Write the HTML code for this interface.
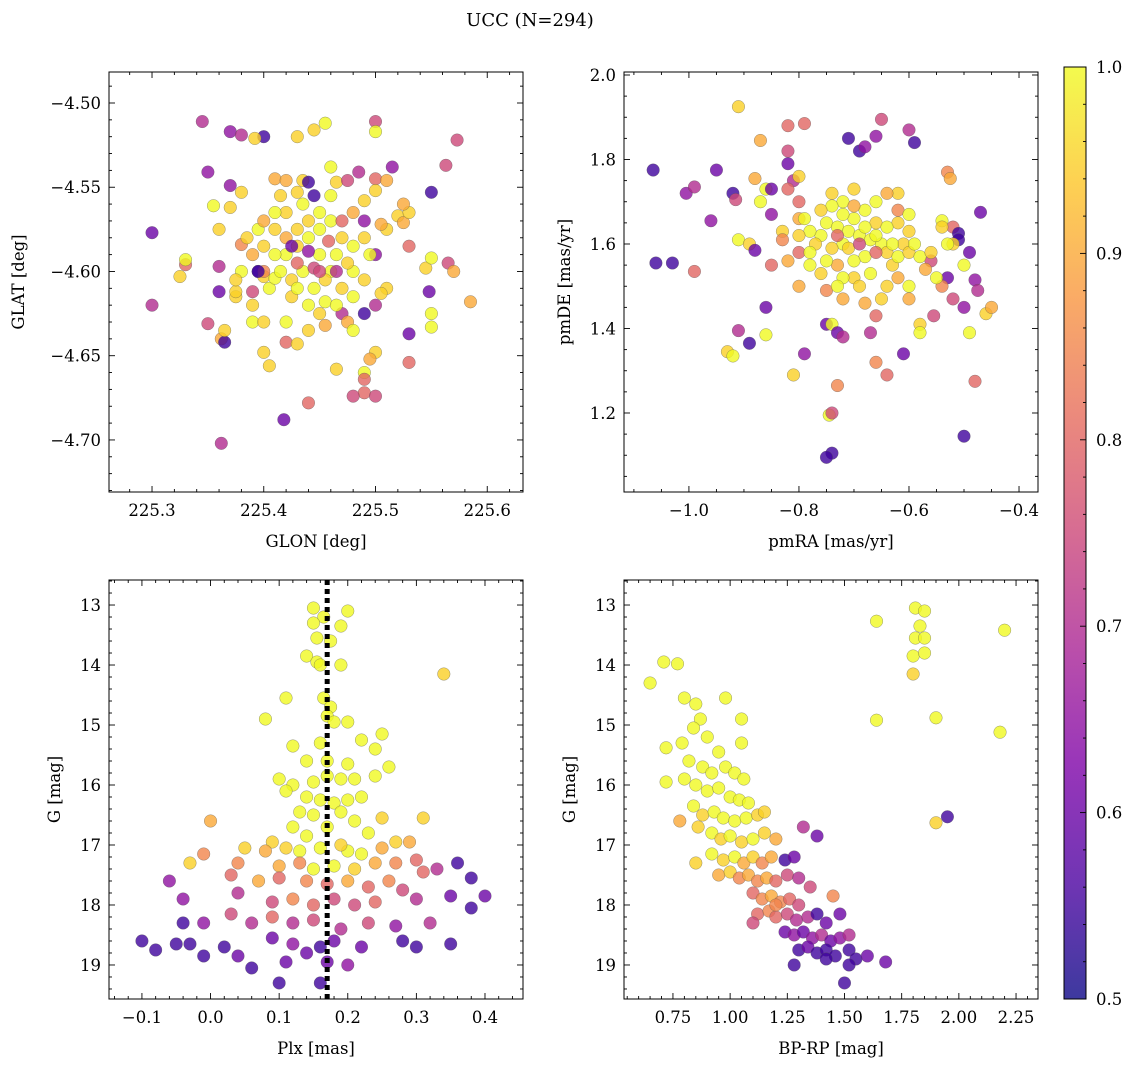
<!DOCTYPE html>
<html><head><meta charset="utf-8">
<style>
body{margin:0;background:#fff;}
svg{display:block;font-family:"DejaVu Serif","Liberation Serif",serif;}
</style></head>
<body>
<svg id="fig" width="1136" height="1067" viewBox="0 0 1136 1067">
<defs>
<linearGradient id="plasma" x1="0" y1="1" x2="0" y2="0">
<stop offset="0" stop-color="#0d0887"/><stop offset="0.125" stop-color="#4c02a1"/>
<stop offset="0.25" stop-color="#7e03a8"/><stop offset="0.375" stop-color="#a92395"/>
<stop offset="0.5" stop-color="#cc4778"/><stop offset="0.625" stop-color="#e66c5c"/>
<stop offset="0.75" stop-color="#f89540"/><stop offset="0.875" stop-color="#fdc527"/>
<stop offset="1" stop-color="#f0f921"/>
</linearGradient>
</defs>
<text x="530" y="26" font-size="18" text-anchor="middle">UCC (N=294)</text>
</svg>
<script>
// ---------- data ----------
const p1_glon=[225.345,225.37,225.38,225.40,225.392,225.43,225.455,225.445,225.50,225.50,225.573,225.35,225.37,225.38,225.41,225.42,225.435,225.44,225.46,225.465,225.475,225.485,225.50,225.51,225.515,225.55,225.563,225.30,225.355,225.37,225.36,225.38,225.33,225.33,225.325,225.30,225.36,225.36,225.35,225.362,225.365,225.365,225.375,225.39,225.375,225.39,225.40,225.405,225.42,225.43,225.44,225.418,225.362,225.465,225.49,225.49,225.49,225.50,225.48,225.50,225.495,225.53,225.53,225.55,225.55,225.585,225.565,225.57,225.545,225.55,225.548,225.53,225.52,225.525,225.53,225.525,225.49,225.5,225.51,225.505,225.50,225.51,225.505,225.5,225.49,225.47,225.475,225.48,225.455,225.44,225.42,225.40,225.405,225.395,225.4,225.41,225.39,
225.42,225.43,225.44,225.45,225.46,225.435,225.425,225.445,225.455,225.465,225.47,225.45,225.44,225.43,225.42,225.41,225.415,225.425,225.44,225.455,225.47,225.48,225.475,225.48,225.46,225.45,225.435,225.42,225.41,225.40,225.4,225.43,225.445,225.458,225.465,225.44,225.425,225.45,225.47,225.49,225.48,225.46,225.445,225.43,225.415,225.41,225.395,225.385,225.39,225.395,225.43,225.45,225.465,225.48,225.49,225.495,225.49,225.4,225.38,225.375];
const p1_glat=[-4.511,-4.517,-4.519,-4.52,-4.521,-4.52,-4.512,-4.516,-4.511,-4.517,-4.522,-4.541,-4.549,-4.553,-4.545,-4.546,-4.546,-4.547,-4.538,-4.547,-4.546,-4.541,-4.545,-4.546,-4.538,-4.553,-4.537,-4.577,-4.561,-4.562,-4.575,-4.584,-4.596,-4.593,-4.603,-4.62,-4.597,-4.612,-4.631,-4.64,-4.642,-4.635,-4.615,-4.62,-4.612,-4.63,-4.648,-4.656,-4.642,-4.643,-4.678,-4.688,-4.702,-4.658,-4.66,-4.664,-4.672,-4.674,-4.674,-4.648,-4.652,-4.637,-4.654,-4.633,-4.625,-4.618,-4.595,-4.6,-4.598,-4.592,-4.612,-4.585,-4.567,-4.571,-4.565,-4.56,-4.558,-4.552,-4.575,-4.572,-4.59,-4.61,-4.613,-4.62,-4.625,-4.625,-4.63,-4.635,-4.632,-4.635,-4.63,-4.63,-4.61,-4.6,-4.603,-4.604,-4.612,
-4.59,-4.585,-4.58,-4.59,-4.6,-4.6,-4.605,-4.61,-4.605,-4.59,-4.58,-4.575,-4.57,-4.575,-4.58,-4.59,-4.6,-4.615,-4.62,-4.618,-4.61,-4.6,-4.595,-4.585,-4.57,-4.565,-4.56,-4.565,-4.575,-4.585,-4.6,-4.595,-4.598,-4.582,-4.6,-4.588,-4.585,-4.6,-4.57,-4.57,-4.565,-4.555,-4.555,-4.553,-4.555,-4.565,-4.575,-4.58,-4.59,-4.6,-4.61,-4.625,-4.62,-4.615,-4.605,-4.59,-4.58,-4.57,-4.6,-4.605];
const p1_prob=[0.7,0.65,0.7,0.55,0.95,0.95,1,0.95,0.75,1,0.75,0.65,0.65,0.95,0.9,0.9,0.95,0.55,1,0.95,0.75,0.7,0.8,0.9,0.65,0.55,0.75,0.6,1,0.95,0.95,0.85,0.8,1,0.95,0.7,0.7,0.6,0.75,0.9,0.55,0.95,0.95,0.95,0.95,1,0.95,0.95,0.8,0.95,0.8,0.6,0.7,0.95,1,0.8,0.8,0.75,0.75,0.95,0.9,0.6,0.8,1,1,0.9,0.75,0.9,0.95,1,0.6,0.8,0.95,0.9,0.95,0.9,0.95,0.95,0.95,0.9,0.65,0.95,0.95,0.7,0.55,0.7,0.9,1,0.9,0.95,1,0.95,1,0.55,0.95,1,0.75,
1,0.95,1,1,1,1,0.95,1,0.95,1,0.95,1,0.95,0.95,0.9,1,1,0.95,1,1,0.95,1,0.95,1,1,1,1,0.95,0.95,0.95,0.85,0.8,0.75,0.8,0.7,0.65,0.6,0.75,0.8,0.65,0.9,1,0.55,0.95,0.95,1,1,0.95,0.9,0.55,1,0.95,1,1,0.95,1,0.95,0.9,1,0.95];

const p2_pmra=[-1.065,-1.06,-1.03,-0.99,-1.005,-0.99,-0.96,-0.95,-0.92,-0.91,-0.915,-0.91,-0.89,-0.88,-0.87,-0.88,-0.87,-0.86,-0.85,-0.85,-0.85,-0.86,-0.86,-0.89,-0.91,-0.93,-0.92,-0.82,-0.79,-0.82,-0.82,-0.81,-0.82,-0.8,-0.8,-0.8,-0.83,-0.83,-0.8,-0.82,-0.78,-0.79,-0.81,-0.75,-0.74,-0.73,-0.72,-0.73,-0.745,-0.74,-0.74,-0.75,-0.71,-0.69,-0.68,-0.66,-0.65,-0.6,-0.59,-0.54,-0.53,-0.525,-0.52,-0.51,-0.51,-0.52,-0.5,-0.49,-0.47,-0.48,-0.475,-0.46,-0.45,-0.5,-0.49,-0.53,-0.54,-0.52,-0.555,-0.58,-0.58,-0.6,-0.61,-0.64,-0.66,-0.66,-0.67,-0.7,-0.56,-0.5,-0.48,-0.61,-0.6,-0.62,-0.62,
-0.75,-0.73,-0.71,-0.69,-0.67,-0.72,-0.74,-0.76,-0.78,-0.77,-0.7,-0.68,-0.66,-0.65,-0.64,-0.68,-0.7,-0.73,-0.75,-0.76,-0.72,-0.69,-0.67,-0.63,-0.62,-0.66,-0.72,-0.74,-0.76,-0.79,-0.8,-0.78,-0.72,-0.7,-0.68,-0.66,-0.64,-0.63,-0.71,-0.73,-0.69,-0.66,-0.6,-0.59,-0.58,-0.56,-0.55,-0.57,-0.62,-0.64,-0.6,-0.65,-0.68,-0.72,-0.75,-0.73,-0.8,-0.7,-0.74,-0.64,-0.62,-0.6,-0.54,-0.53];
const p2_pmde=[1.775,1.555,1.555,1.535,1.72,1.735,1.655,1.775,1.72,1.925,1.705,1.61,1.6,1.585,1.845,1.755,1.7,1.73,1.73,1.67,1.55,1.45,1.385,1.365,1.395,1.345,1.335,1.88,1.885,1.82,1.79,1.75,1.73,1.76,1.7,1.66,1.63,1.61,1.58,1.56,1.55,1.34,1.29,1.41,1.41,1.39,1.38,1.265,1.195,1.2,1.105,1.095,1.85,1.82,1.83,1.855,1.895,1.87,1.84,1.655,1.77,1.755,1.64,1.625,1.61,1.6,1.55,1.58,1.675,1.515,1.49,1.435,1.45,1.45,1.39,1.52,1.5,1.47,1.43,1.41,1.39,1.47,1.34,1.29,1.32,1.43,1.39,1.52,1.56,1.145,1.275,1.6,1.63,1.65,1.72,
1.65,1.64,1.63,1.62,1.61,1.6,1.59,1.62,1.63,1.6,1.66,1.68,1.65,1.6,1.58,1.57,1.56,1.55,1.56,1.53,1.52,1.5,1.53,1.55,1.57,1.7,1.7,1.69,1.68,1.66,1.62,1.58,1.67,1.69,1.64,1.62,1.64,1.6,1.59,1.62,1.6,1.58,1.58,1.6,1.57,1.58,1.52,1.54,1.52,1.5,1.5,1.47,1.46,1.47,1.49,1.5,1.5,1.73,1.72,1.72,1.68,1.67,1.64,1.6];
const p2_prob=[0.55,0.55,0.55,0.8,0.65,0.7,0.65,0.6,0.55,0.95,0.75,1,0.95,0.6,0.9,0.9,1,1,0.6,0.65,0.8,0.6,1,0.55,0.7,0.95,1,0.8,0.8,0.75,0.6,0.7,0.8,0.95,0.8,0.9,0.95,0.85,0.8,0.9,1,0.65,0.95,0.6,1,0.6,0.7,0.85,1,0.75,0.55,0.55,0.55,0.55,0.65,0.65,0.75,0.7,0.55,1,0.85,0.9,0.8,0.55,0.55,0.95,1,0.6,0.6,0.65,0.7,0.95,0.9,0.65,1,0.6,0.85,0.75,0.75,0.95,1,0.9,0.6,0.8,0.85,0.8,0.7,0.95,0.75,0.55,0.8,0.95,0.95,0.95,0.95,
1,1,1,1,1,1,0.95,1,1,0.95,1,1,0.95,1,0.95,1,1,0.9,1,0.95,1,0.95,1,0.95,1,1,1,1,0.95,1,0.95,1,1,0.9,1,1,1,1,0.95,0.8,0.75,0.8,0.95,1,1,0.95,1,0.9,0.9,0.95,1,0.95,0.9,0.9,0.85,1,0.9,0.95,0.95,0.9,0.85,1,0.95,1];

const p3_plx=[0.15,0.2,0.165,0.15,0.19,0.155,0.175,0.14,0.155,0.16,0.19,0.34,0.165,0.175,0.11,0.17,0.18,0.2,0.08,0.25,0.16,0.12,0.22,0.24,0.14,0.17,0.2,0.26,0.1,0.12,0.15,0.17,0.19,0.21,0.24,0.14,0.11,0.16,0.18,0.2,0.22,0.13,0.15,0.19,0.21,0.25,0.31,0.0,0.12,0.17,0.14,0.23,0.09,0.27,0.29,0.05,0.08,0.11,0.13,0.16,0.2,0.22,0.25,0.19,-0.01,-0.03,0.04,0.1,0.13,0.15,0.18,0.21,0.24,0.27,0.3,0.31,-0.06,0.03,0.07,0.1,0.14,0.17,0.2,0.23,0.26,0.28,0.33,0.36,0.38,0.4,-0.04,0.04,0.09,0.12,0.15,0.18,0.21,0.24,0.3,0.35,0.38,-0.04,-0.01,0.03,0.06,0.09,0.12,0.15,0.19,0.23,0.27,0.32,-0.1,-0.08,-0.05,-0.03,-0.01,0.02,0.04,0.06,0.09,0.11,0.12,0.14,0.16,0.17,0.18,0.2,0.22,0.28,0.3,0.35,0.1,0.16];
const p3_g=[13.05,13.1,13.2,13.3,13.35,13.55,13.6,13.85,13.95,14.0,14.0,14.15,14.55,14.7,14.55,14.85,14.95,14.95,14.9,15.15,15.3,15.35,15.25,15.4,15.6,15.6,15.65,15.7,15.9,16,15.95,15.85,15.9,15.9,15.85,16.2,16.1,16.25,16.3,16.25,16.2,16.45,16.5,16.45,16.6,16.55,16.55,16.6,16.7,16.7,16.85,16.8,16.95,16.95,16.95,17.05,17.1,17.05,17.1,17.05,17.1,17.15,17.05,17.0,17.15,17.3,17.3,17.35,17.3,17.4,17.35,17.4,17.3,17.3,17.25,17.45,17.6,17.5,17.6,17.55,17.6,17.65,17.6,17.7,17.6,17.75,17.4,17.3,17.55,17.85,17.9,17.8,17.95,17.9,18.0,17.9,18.0,17.95,17.9,17.85,18.05,18.3,18.3,18.15,18.3,18.2,18.3,18.25,18.4,18.3,18.35,18.3,18.6,18.75,18.65,18.65,18.85,18.7,18.85,19.05,18.55,18.95,18.65,18.8,18.7,18.95,18.6,19.0,18.7,18.6,18.7,18.65,19.3,19.3];
const p3_prob=[1,1,1,1,1,1,1,1,1,1,1,0.95,1,1,1,1,1,1,1,1,1,1,1,1,1,1,1,1,1,1,1,1,1,1,1,1,1,1,1,1,1,1,1,1,1,0.95,0.95,0.9,1,1,1,1,0.95,0.95,0.9,0.95,0.9,0.95,1,1,1,1,0.9,0.95,0.85,0.95,0.85,0.9,0.85,1,1,0.95,0.9,0.85,0.8,0.8,0.65,0.8,0.9,0.8,0.85,0.8,0.9,0.8,0.85,0.75,0.7,0.55,0.55,0.6,0.65,0.7,0.75,0.85,0.8,0.75,0.75,0.8,0.7,0.6,0.55,0.55,0.65,0.75,0.7,0.8,0.7,0.75,0.7,0.75,0.65,0.7,0.55,0.55,0.55,0.55,0.55,0.55,0.6,0.55,0.6,0.6,0.65,0.6,0.55,0.6,0.6,0.65,0.6,0.55,0.55,0.55,0.55,0.55];

const p4_bprp=[1.81,1.85,1.83,1.81,1.85,1.8,1.85,1.8,2.2,1.64,1.64,1.9,2.18,1.9,1.95,0.65,0.71,0.77,0.72,0.72,0.8,0.85,0.87,0.84,0.98,1.05,1.05,0.9,0.95,0.79,0.82,0.88,0.92,0.98,1.02,1.06,0.8,0.85,0.9,0.95,1.0,1.04,1.08,0.84,0.88,0.93,0.97,1.02,1.07,1.12,1.15,0.78,0.86,0.92,0.96,1.0,1.05,1.1,1.15,1.2,1.32,1.38,0.85,0.92,0.97,1.02,1.06,1.1,1.14,1.18,1.24,1.28,0.95,1.0,1.04,1.08,1.12,1.16,1.2,1.25,1.3,1.35,1.1,1.14,1.18,1.22,1.26,1.3,1.45,1.12,1.17,1.2,1.25,1.29,1.34,1.38,1.42,1.48,1.24,1.28,1.32,1.36,1.4,1.44,1.48,1.52,1.3,1.34,1.38,1.42,1.46,1.52,1.55,1.6,1.68,1.28,1.42,1.52,1.5,1.2,1.1];
const p4_g=[13.05,13.1,13.35,13.55,13.55,13.85,13.8,14.15,13.42,13.27,14.92,14.88,15.12,16.63,16.53,14.3,13.95,13.98,15.38,15.95,14.55,14.65,14.9,15.05,14.55,14.9,15.3,15.2,15.45,15.3,15.6,15.7,15.8,15.7,15.8,15.9,15.9,16.0,16.1,16.05,16.2,16.25,16.3,16.35,16.5,16.45,16.55,16.6,16.55,16.5,16.45,16.6,16.7,16.8,16.9,16.85,16.95,16.9,16.8,16.9,16.7,16.85,17.3,17.15,17.25,17.2,17.3,17.2,17.3,17.2,17.25,17.2,17.5,17.45,17.55,17.5,17.6,17.55,17.6,17.5,17.55,17.7,17.8,17.9,17.85,17.95,17.9,18.0,17.85,18.15,18.1,18.2,18.15,18.25,18.2,18.15,18.3,18.15,18.45,18.5,18.45,18.55,18.5,18.6,18.55,18.5,18.75,18.7,18.8,18.75,18.85,18.75,18.9,18.85,18.95,19.0,18.9,19.0,19.3,18.0,18.3];
const p4_prob=[1,1,1,1,1,1,1,0.95,1,1,1,1,1,0.95,0.55,1,1,1,1,1,1,1,1,1,1,1,1,1,1,1,1,1,1,1,1,1,1,1,1,1,1,1,1,1,0.95,1,1,1,1,0.95,0.95,0.9,0.95,1,0.95,1,0.95,1,0.95,0.9,0.7,0.6,0.95,1,0.95,1,0.9,0.95,0.85,0.9,0.55,0.6,0.9,0.95,0.85,0.9,0.85,0.9,0.8,0.75,0.7,0.75,0.8,0.85,0.9,0.85,0.8,0.75,0.85,0.8,0.85,0.8,0.75,0.7,0.7,0.55,0.6,0.6,0.6,0.65,0.6,0.65,0.7,0.6,0.65,0.7,0.55,0.6,0.55,0.55,0.55,0.55,0.55,0.6,0.6,0.55,0.55,0.55,0.55,0.85,0.75];

const plxLine=0.17;
const cbTicks=[0.5,0.6,0.7,0.8,0.9,1.0];

// ---------- helpers ----------
const NS='http://www.w3.org/2000/svg';
const svg=document.getElementById('fig');
const FS=16.5;
function mk(tag,attrs,parent){const e=document.createElementNS(NS,tag);for(const k in attrs)e.setAttribute(k,attrs[k]);(parent||svg).appendChild(e);return e;}
const stops=[[0,[13,8,135]],[0.125,[76,2,161]],[0.25,[126,3,168]],[0.375,[169,35,149]],[0.5,[204,71,120]],[0.625,[230,108,92]],[0.75,[248,149,64]],[0.875,[253,197,39]],[1,[240,249,33]]];
function plasma(v){let t=Math.max(0,Math.min(1,(v-0.5)/0.5));for(let i=1;i<stops.length;i++){if(t<=stops[i][0]){const a=stops[i-1],b=stops[i];const f=(t-a[0])/(b[0]-a[0]);const c=a[1].map((x,j)=>Math.round(x+(b[1][j]-x)*f));return `rgb(${c[0]},${c[1]},${c[2]})`;}}return 'rgb(240,249,33)';}
function fmt(v,d){const s=Math.abs(v).toFixed(d);return (v<-1e-9?'\u2212':'')+s;}

function panel(cfg){
  const g=mk('g',{});
  
  
  const {x0,x1,y0,y1,xmin,xmax,ymin,ymax,yrev}=cfg;
  const sx=v=>x0+(v-xmin)/(xmax-xmin)*(x1-x0);
  const sy=v=>yrev? y0+(v-ymin)/(ymax-ymin)*(y1-y0) : y1-(v-ymin)/(ymax-ymin)*(y1-y0);
  const pts=mk('g',{},g);
  
  
  for(let i=0;i<cfg.xs.length;i++){
    const c=mk('circle',{cx:sx(cfg.xs[i]),cy:sy(cfg.ys[i]),r:6.3,fill:plasma(cfg.ps[i]),'fill-opacity':0.8,stroke:'#555','stroke-opacity':0.6,'stroke-width':0.5},pts);
    
    
  }
  if(cfg.vline!==undefined){
    const l=mk('line',{x1:sx(cfg.vline),x2:sx(cfg.vline),y1:y0,y2:y1,stroke:'#000','stroke-width':5,'stroke-dasharray':'5,4'},g);
    
    
  }
  const fr=mk('rect',{x:x0,y:y0,width:x1-x0,height:y1-y0,fill:'none',stroke:'#000','stroke-width':1},g);
  
  
  const tg=mk('g',{stroke:'#000','stroke-width':0.9},g);
  const eps=1e-9;
  for(let v=Math.ceil(xmin/cfg.xminor-eps)*cfg.xminor;v<=xmax+eps;v+=cfg.xminor){
    const X=sx(v);const maj=Math.abs(Math.round(v/cfg.xmajor)*cfg.xmajor-v)<1e-6;const L=maj?6:3;
    mk('line',{x1:X,x2:X,y1:y1,y2:y1-L},tg);mk('line',{x1:X,x2:X,y1:y0,y2:y0+L},tg);
  }
  for(let v=Math.ceil(ymin/cfg.yminor-eps)*cfg.yminor;v<=ymax+eps;v+=cfg.yminor){
    const Y=sy(v);const maj=Math.abs(Math.round(v/cfg.ymajor)*cfg.ymajor-v)<1e-6;const L=maj?6:3;
    mk('line',{x1:x0,x2:x0+L,y1:Y,y2:Y},tg);mk('line',{x1:x1,x2:x1-L,y1:Y,y2:Y},tg);
  }
  cfg.xticks.forEach(v=>{const t=mk('text',{x:sx(v),y:y1+24,'font-size':FS,'text-anchor':'middle'},g);t.textContent=fmt(v,cfg.xdec);
    });
  cfg.yticks.forEach(v=>{const t=mk('text',{x:x0-8,y:sy(v)+6,'font-size':FS,'text-anchor':'end'},g);t.textContent=fmt(v,cfg.ydec);
    });
  const xl=mk('text',{x:(x0+x1)/2,y:y1+55,'font-size':FS,'text-anchor':'middle'},g);xl.textContent=cfg.xlabel;
  
  const yl=mk('text',{x:0,y:0,'font-size':FS,'text-anchor':'middle',transform:`translate(${cfg.ylx},${(y0+y1)/2}) rotate(-90)`},g);yl.textContent=cfg.ylabel;
  
}

panel({name:'glon-glat-panel',x0:109,x1:523,y0:72,y1:492,xmin:225.2615,xmax:225.632,ymin:-4.7309,ymax:-4.4816,
 xs:p1_glon,ys:p1_glat,ps:p1_prob,xmajor:0.1,xminor:0.02,ymajor:0.05,yminor:0.01,
 xticks:[225.3,225.4,225.5,225.6],yticks:[-4.5,-4.55,-4.6,-4.65,-4.7],xdec:1,ydec:2,xlabel:'GLON [deg]',ylabel:'GLAT [deg]',ylx:24});
panel({name:'proper-motion-panel',x0:624,x1:1038,y0:72,y1:492,xmin:-1.118,xmax:-0.3655,ymin:1.013,ymax:2.0071,
 xs:p2_pmra,ys:p2_pmde,ps:p2_prob,xmajor:0.2,xminor:0.05,ymajor:0.2,yminor:0.05,
 xticks:[-1.0,-0.8,-0.6,-0.4],yticks:[1.2,1.4,1.6,1.8,2.0],xdec:1,ydec:1,xlabel:'pmRA [mas/yr]',ylabel:'pmDE [mas/yr]',ylx:570});
panel({name:'parallax-magnitude-panel',x0:109,x1:523,y0:580,y1:999,xmin:-0.148,xmax:0.4554,ymin:12.583,ymax:19.567,yrev:true,
 xs:p3_plx,ys:p3_g,ps:p3_prob,xmajor:0.1,xminor:0.02,ymajor:1,yminor:0.2,vline:plxLine,
 xticks:[-0.1,0,0.1,0.2,0.3,0.4],yticks:[13,14,15,16,17,18,19],xdec:1,ydec:0,xlabel:'Plx [mas]',ylabel:'G [mag]',ylx:60});
panel({name:'color-magnitude-panel',x0:624,x1:1038,y0:580,y1:999,xmin:0.536,xmax:2.346,ymin:12.583,ymax:19.567,yrev:true,
 xs:p4_bprp,ys:p4_g,ps:p4_prob,xmajor:0.25,xminor:0.05,ymajor:1,yminor:0.2,
 xticks:[0.75,1.0,1.25,1.5,1.75,2.0,2.25],yticks:[13,14,15,16,17,18,19],xdec:2,ydec:0,xlabel:'BP-RP [mag]',ylabel:'G [mag]',ylx:575});

(function(){
  const cx0=1064,cx1=1086,cy0=67,cy1=999;
  const g=mk('g',{});
  
  
  mk('rect',{x:cx0,y:cy0,width:cx1-cx0,height:cy1-cy0,fill:'url(#plasma)','fill-opacity':0.8},g);
  mk('rect',{x:cx0,y:cy0,width:cx1-cx0,height:cy1-cy0,fill:'none',stroke:'#000','stroke-width':1},g);
  const sy=v=>cy1-(v-0.5)/0.5*(cy1-cy0);
  for(let k=0;k<=25;k++){const v=0.5+k*0.02;const Y=sy(v);const maj=k%5===0;
    mk('line',{x1:cx1,x2:cx1-(maj?6:3),y1:Y,y2:Y,stroke:'#000','stroke-width':0.9},g);}
  cbTicks.forEach(v=>{const t=mk('text',{x:cx1+10,y:sy(v)+6,'font-size':FS},g);t.textContent=v.toFixed(1);
    });
})();
</script>
</body></html>
